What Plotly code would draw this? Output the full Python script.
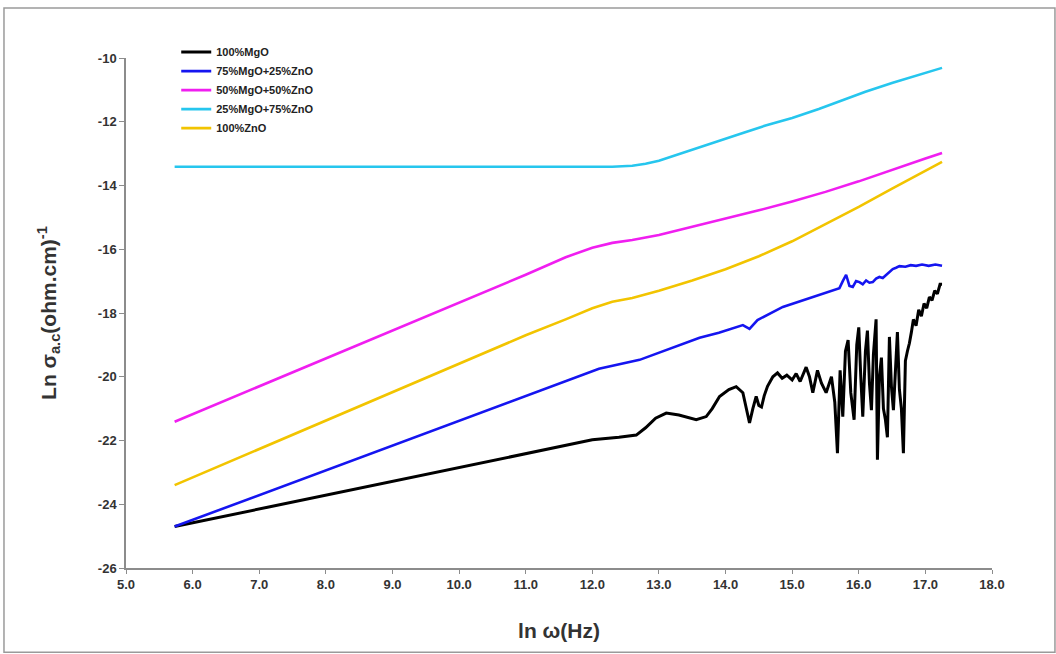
import plotly.graph_objects as go

# ---- data ----
names = ["100%MgO", "75%MgO+25%ZnO", "50%MgO+50%ZnO", "25%MgO+75%ZnO", "100%ZnO"]

x_mgo = [5.73, 7.0, 8.0, 9.0, 10.0, 11.0, 11.5, 12.0, 12.4, 12.66, 12.8, 12.95, 13.11, 13.3,
         13.56, 13.71, 13.8, 13.91, 14.05, 14.16, 14.26, 14.31, 14.36, 14.41, 14.46, 14.5,
         14.54, 14.58, 14.63, 14.71, 14.78, 14.85, 14.92, 15.0, 15.06, 15.12, 15.21, 15.26,
         15.31, 15.38, 15.44, 15.51, 15.59, 15.64, 15.68, 15.72, 15.76, 15.8, 15.84, 15.88,
         15.93, 15.97, 16.0, 16.03, 16.06, 16.1, 16.13, 16.16, 16.19, 16.22, 16.26, 16.28,
         16.31, 16.34, 16.37, 16.4, 16.43, 16.46, 16.49, 16.52, 16.55, 16.58, 16.61, 16.64,
         16.67, 16.7, 16.73, 16.76, 16.79, 16.82, 16.86, 16.9, 16.94, 16.98, 17.02, 17.06,
         17.1, 17.14, 17.18, 17.22, 17.25]
y_mgo = [-24.70, -24.15, -23.72, -23.29, -22.86, -22.43, -22.2, -21.98, -21.9, -21.83, -21.6,
         -21.3, -21.14, -21.2, -21.35, -21.25, -21.0, -20.62, -20.4, -20.31, -20.5, -21.0,
         -21.45, -21.0, -20.62, -20.9, -20.95, -20.6, -20.3, -20.0, -19.88, -20.05, -19.95,
         -20.1, -19.9, -20.15, -19.7, -20.0, -20.5, -19.8, -20.2, -20.5, -20.0, -20.8, -22.4,
         -19.8, -21.25, -19.2, -18.85, -20.5, -21.35, -19.0, -18.45, -20.0, -21.25, -19.2,
         -18.55, -20.2, -21.05, -19.3, -18.2, -22.6, -20.0, -19.4, -21.0, -21.35, -21.9,
         -18.75, -20.3, -21.05, -19.6, -18.6, -20.4, -21.0, -22.4, -19.5, -19.2, -18.95,
         -18.6, -18.2, -18.4, -17.9, -18.1, -17.7, -17.85, -17.5, -17.6, -17.3, -17.4, -17.1,
         -17.1]

x_75 = [5.73, 7.0, 8.0, 9.0, 10.0, 11.0, 11.51, 12.1, 12.71, 13.2, 13.61, 13.9, 14.26, 14.36,
        14.48, 14.86, 15.1, 15.31, 15.5, 15.71, 15.76, 15.81, 15.86, 15.91, 15.96, 16.01,
        16.06, 16.11, 16.16, 16.21, 16.26, 16.31, 16.36, 16.41, 16.46, 16.51, 16.56, 16.61,
        16.7, 16.78, 16.86, 16.95, 17.05, 17.15, 17.25]
y_75 = [-24.70, -23.71, -22.93, -22.15, -21.37, -20.6, -20.2, -19.75, -19.47, -19.1, -18.78,
        -18.62, -18.38, -18.5, -18.22, -17.81, -17.65, -17.5, -17.38, -17.22, -17.0, -16.8,
        -17.15, -17.18, -17.0, -17.03, -17.1, -16.98, -17.05, -17.03, -16.92, -16.87, -16.9,
        -16.8, -16.7, -16.62, -16.58, -16.53, -16.55, -16.5, -16.52, -16.48, -16.52, -16.48,
        -16.52]

x_50 = [5.73, 7.0, 8.0, 9.0, 10.0, 11.0, 11.6, 12.0, 12.3, 12.6, 13.0, 13.5, 14.0, 14.5,
        15.0, 15.5, 16.0, 16.5, 17.0, 17.25]
y_50 = [-21.41, -20.30, -19.43, -18.56, -17.68, -16.8, -16.25, -15.95, -15.8, -15.71, -15.55,
        -15.3, -15.05, -14.78, -14.5, -14.2, -13.87, -13.5, -13.15, -12.98]

x_25 = [5.73, 8.0, 10.0, 11.5, 12.3, 12.6, 12.8, 13.0, 13.2, 13.5, 14.0, 14.26, 14.6, 15.0,
        15.4, 15.76, 16.1, 16.51, 16.9, 17.25]
y_25 = [-13.41, -13.41, -13.42, -13.42, -13.41, -13.38, -13.32, -13.22, -13.08, -12.86,
        -12.53, -12.35, -12.12, -11.88, -11.6, -11.32, -11.06, -10.78, -10.52, -10.31]

x_zno = [5.73, 7.0, 8.0, 9.0, 10.0, 11.0, 11.6, 12.0, 12.3, 12.6, 13.0, 13.5, 14.0, 14.5,
         15.0, 15.5, 16.0, 16.5, 17.0, 17.25]
y_zno = [-23.40, -22.27, -21.38, -20.48, -19.59, -18.7, -18.2, -17.85, -17.65, -17.53, -17.3,
         -16.98, -16.63, -16.22, -15.75, -15.22, -14.67, -14.1, -13.55, -13.26]

x_ticks = [5, 6, 7, 8, 9, 10, 11, 12, 13, 14, 15, 16, 17, 18]
y_ticks = [-26, -24, -22, -20, -18, -16, -14, -12, -10]

colors = ["#000000", "#1515F0", "#F01EF0", "#26C6EE", "#F2C400"]
widths = [3, 2.6, 2.6, 2.6, 2.6]
series = [(x_mgo, y_mgo), (x_75, y_75), (x_50, y_50), (x_25, y_25), (x_zno, y_zno)]

fig = go.Figure()
for (xs, ys), nm, c, w in zip(series, names, colors, widths):
    fig.add_trace(go.Scatter(x=xs, y=ys, mode="lines", name=nm,
                             line=dict(color=c, width=w)))

fig.update_layout(
    width=1056, height=654,
    margin=dict(l=126, r=64, t=58, b=86, autoexpand=False),
    paper_bgcolor="white", plot_bgcolor="white",
    font=dict(family="Arial, Liberation Sans, sans-serif", color="#333333"),
    showlegend=True,
    legend=dict(x=0.058, y=1.04, xanchor="left", yanchor="top",
                bgcolor="rgba(0,0,0,0)", tracegroupgap=0,
                font=dict(size=11, color="#222222", family="Arial, Liberation Sans, sans-serif",
                          weight="bold"),
                itemwidth=30),
    shapes=[dict(type="rect", xref="paper", yref="paper",
                 x0=-0.1409, x1=1.0727, y0=-0.165, y1=1.098,
                 line=dict(color="#9a9a9a", width=1.5), layer="below")],
)

fig.update_xaxes(range=[5, 18], tickvals=x_ticks,
                 ticktext=[f"{v:.1f}" for v in x_ticks],
                 showgrid=False, zeroline=False, showline=True,
                 linecolor="#8c8c8c", linewidth=1.5,
                 ticks="outside", ticklen=4, tickcolor="#8c8c8c", automargin=False,
                 tickfont=dict(size=13, color="#333333", weight="bold"),
                 title=dict(text="<b>ln ω(Hz)</b>", font=dict(size=21, color="#333333"), standoff=32))
fig.update_yaxes(range=[-26, -10], tickvals=y_ticks,
                 ticktext=[str(v) for v in y_ticks],
                 showgrid=False, zeroline=False, showline=True,
                 linecolor="#8c8c8c", linewidth=1.5,
                 ticks="outside", ticklen=5, tickcolor="#8c8c8c", automargin=False,
                 tickfont=dict(size=13, color="#333333", weight="bold"),
                 title=dict(text="<b>Ln σ<sub>a.c</sub>(ohm.cm)<sup>-1</sup></b>",
                            font=dict(size=21, color="#333333"), standoff=36))

fig.write_html("out.html", config={"displayModeBar": False},
               post_script="document.body.style.margin='0';")
